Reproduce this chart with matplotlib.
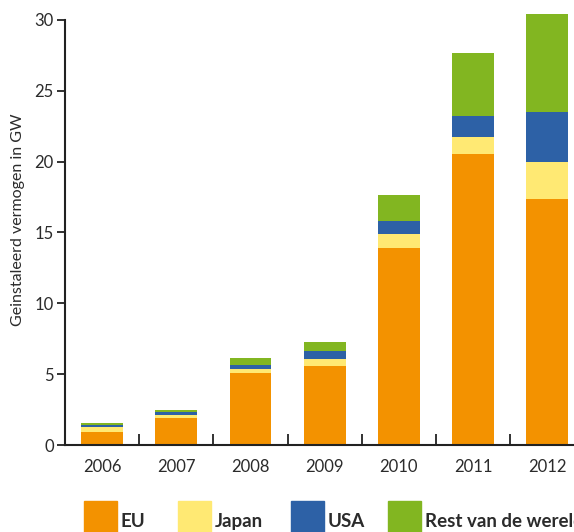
import matplotlib
matplotlib.use("Agg")
import matplotlib.pyplot as plt
import numpy as np
from matplotlib.patches import Rectangle

plt.rcParams['font.family'] = ['Lato', 'DejaVu Sans']

years = ['2006', '2007', '2008', '2009', '2010', '2011', '2012']
eu = [0.95, 1.9, 5.1, 5.6, 13.9, 20.5, 17.35]
japan = [0.33, 0.22, 0.25, 0.5, 1.0, 1.2, 2.6]
usa = [0.14, 0.21, 0.3, 0.5, 0.92, 1.55, 3.55]
rest = [0.14, 0.14, 0.5, 0.7, 1.83, 4.38, 6.9]

series_names = ['EU', 'Japan', 'USA', 'Rest van de wereld']
colors = ['#F39200', '#FFE973', '#2D61A6', '#82B621']
text_col = '#2b2b2b'

fig = plt.figure(figsize=(5.74, 5.32), dpi=100)
ax = fig.add_axes([65 / 574, 87 / 532, 519.4 / 574, 439.3 / 532])

x = np.arange(len(years))
bottom = np.zeros(len(years))
for vals, col in zip([eu, japan, usa, rest], colors):
    ax.bar(x, vals, width=0.566, bottom=bottom, color=col, linewidth=0)
    bottom += np.array(vals)

ax.set_xlim(-0.5, 6.5)
ax.set_ylim(0, 31)
for s in ['top', 'right']:
    ax.spines[s].set_visible(False)
for s in ['left', 'bottom']:
    ax.spines[s].set_linewidth(1.5)
    ax.spines[s].set_color('#222222')
ax.spines['left'].set_bounds(0, 30)

ax.set_yticks([0, 5, 10, 15, 20, 25, 30])
ax.tick_params(axis='y', direction='out', length=6, width=1.3, color='#222222',
               labelsize=12, labelcolor=text_col, pad=2)
ax.set_xticks(x)
ax.set_xticklabels(years)
ax.set_xticks(np.arange(-0.5, 6.6, 1), minor=True)
ax.tick_params(axis='x', which='major', length=0, labelsize=12, labelcolor=text_col, pad=10)
ax.tick_params(axis='x', which='minor', direction='in', length=8, width=1.3, color='#222222')

ax.set_ylabel('Geinstaleerd vermogen in GW', fontsize=11.5, color=text_col)
ax.yaxis.set_label_coords(-0.077, 0.512)

# legend along the bottom (last label runs off the edge, as in the original)
leg_x = [84, 178, 291, 388]
for lx, name, col in zip(leg_x, series_names, colors):
    fig.patches.append(Rectangle((lx / 574, 0), 33 / 574, 31 / 532, color=col,
                                 transform=fig.transFigure, figure=fig))
    fig.text((lx + 37) / 574, 2 / 532, name, fontsize=13.5, fontweight='bold',
             color=text_col, ha='left', va='bottom')

fig.savefig('out.png', dpi=100)
